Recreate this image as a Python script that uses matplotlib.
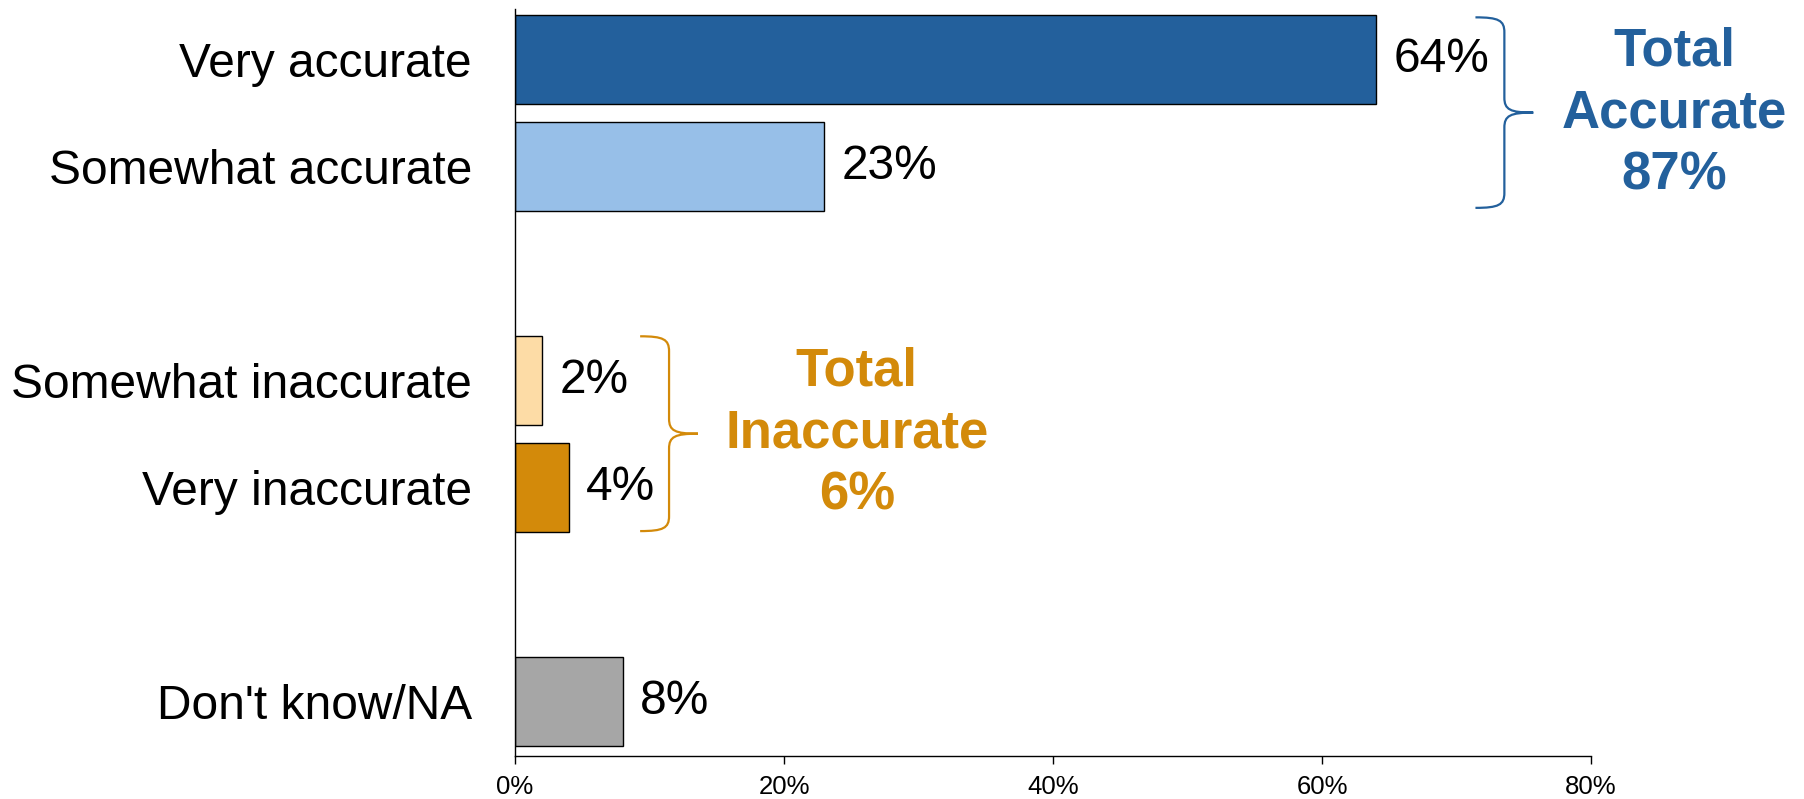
import matplotlib.pyplot as plt
from matplotlib.path import Path
from matplotlib.patches import PathPatch

plt.rcParams['font.family'] = ['Liberation Sans', 'DejaVu Sans']

# data
categories = ['Very accurate', 'Somewhat accurate', 'Somewhat inaccurate',
              'Very inaccurate', "Don't know/NA"]
values = [64, 23, 2, 4, 8]
positions = [0, 1, 3, 4, 6]
colors = ['#23609C', '#97BFE8', '#FDDCA6', '#D38A0A', '#A6A6A6']
xticks = [0, 20, 40, 60, 80]

total_accurate = values[0] + values[1]
total_inaccurate = 6

BLUE = '#23609C'
ORANGE = '#D38A0A'


def brace(ax, x0, width, y_top, y_bot, color):
    # curly brace opening to the left, tip pointing right
    xm = x0 + width * 0.5
    xt = x0 + width
    ymid = (y_top + y_bot) / 2
    r = 0.14
    verts = [
        (x0, y_top),
        (x0 + 0.8 * (xm - x0), y_top), (xm, y_top + 0.2 * r), (xm, y_top + r),
        (xm, ymid - r),
        (xm, ymid - 0.2 * r), (xm + 0.2 * (xt - xm), ymid), (xt, ymid),
        (xm + 0.2 * (xt - xm), ymid), (xm, ymid + 0.2 * r), (xm, ymid + r),
        (xm, y_bot - r),
        (xm, y_bot - 0.2 * r), (x0 + 0.8 * (xm - x0), y_bot), (x0, y_bot),
    ]
    codes = [Path.MOVETO,
             Path.CURVE4, Path.CURVE4, Path.CURVE4,
             Path.LINETO,
             Path.CURVE4, Path.CURVE4, Path.CURVE4,
             Path.CURVE4, Path.CURVE4, Path.CURVE4,
             Path.LINETO,
             Path.CURVE4, Path.CURVE4, Path.CURVE4]
    ax.add_patch(PathPatch(Path(verts, codes), facecolor='none',
                           edgecolor=color, lw=1.6, clip_on=False))


fig = plt.figure(figsize=(18.04, 7.99), dpi=100)
ax = fig.add_axes([0.2855, 0.054, 0.882 - 0.2855, 0.989 - 0.054])

bar_h = 0.83
ax.barh(positions, values, height=bar_h, color=colors,
        edgecolor='black', linewidth=1.0)

for p, v in zip(positions, values):
    ax.text(v + 1.3, p, f'{v}%', va='center', ha='left', fontsize=34.5)

ax.set_xlim(0, 80)
ax.set_ylim(6.51, -0.47)
ax.set_xticks(xticks)
ax.set_xticklabels([f'{t}%' for t in xticks], fontsize=18.5)
ax.set_yticks(positions)
ax.set_yticklabels(categories, fontsize=34.5)
ax.tick_params(axis='y', length=0, pad=31)
ax.tick_params(axis='x', length=6, width=1, direction='out', pad=8)

for s in ['top', 'right']:
    ax.spines[s].set_visible(False)
for s in ['left', 'bottom']:
    ax.spines[s].set_linewidth(1.0)
    ax.spines[s].set_color('black')

# braces and totals
brace(ax, 71.4, 4.3, -0.39, 1.39, BLUE)
brace(ax, 9.3, 4.3, 2.59, 4.41, ORANGE)

ax.text(86.2, 0.51, f'Total\nAccurate\n{total_accurate}%', ha='center',
        va='center', fontsize=38, fontweight='bold', color=BLUE,
        linespacing=1.3, clip_on=False)
ax.text(25.4, 3.5, f'Total\nInaccurate\n{total_inaccurate}%', ha='center',
        va='center', fontsize=38, fontweight='bold', color=ORANGE,
        linespacing=1.3)

fig.savefig('out.png', dpi=100)
